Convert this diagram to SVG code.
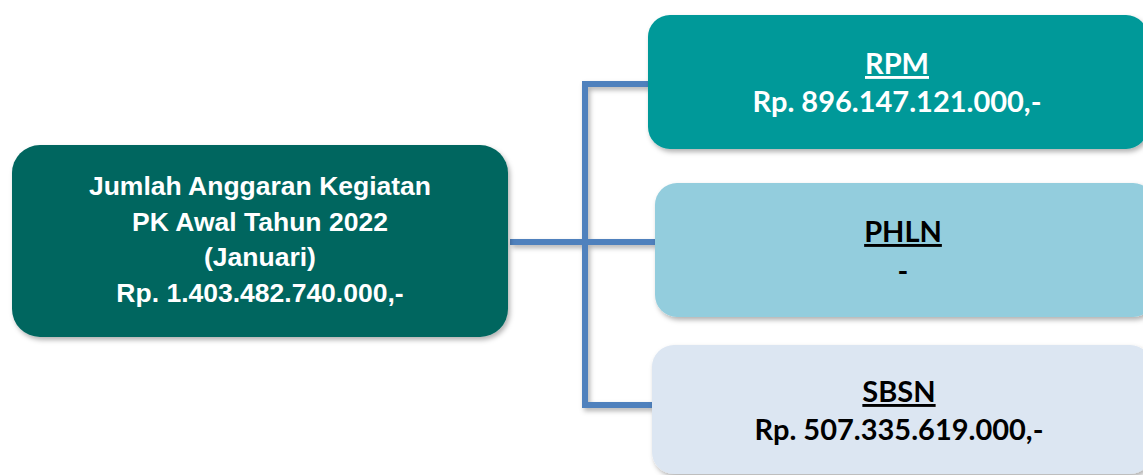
<svg xmlns="http://www.w3.org/2000/svg" width="1143" height="475" viewBox="0 0 1143 475">
<defs>
<filter id="sh" x="-10%" y="-10%" width="125%" height="130%">
<feDropShadow dx="2" dy="3" stdDeviation="2.5" flood-color="#000" flood-opacity="0.3"/>
</filter>
<style>
.main{font-family:"Liberation Sans",Arial,sans-serif;font-weight:bold;font-size:26.5px;fill:#fff;text-anchor:middle}
.lbl{font-family:Lato,"Liberation Sans",sans-serif;font-weight:bold;font-size:29px;text-anchor:middle}
.u{text-decoration:underline}
.conn{stroke:#4F81BD;stroke-width:6;fill:none;stroke-linecap:butt}
</style>
</defs>
<rect width="1143" height="475" fill="#fff"/>
<g id="connectors" filter="url(#sh)">
<line class="conn" x1="510" y1="242" x2="656" y2="242"/>
<polyline class="conn" points="649,84 585,84 585,405 653,405"/>
</g>
<g id="total">
<rect x="12" y="145" width="496" height="192" rx="28" fill="#02665F" filter="url(#sh)"/>
<text class="main" x="260" y="195">Jumlah Anggaran Kegiatan</text>
<text class="main" x="260" y="231">PK Awal Tahun 2022</text>
<text class="main" x="260" y="266">(Januari)</text>
<text class="main" x="260" y="302">Rp. 1.403.482.740.000,-</text>
</g>
<g id="rpm">
<rect x="648" y="15" width="500" height="134" rx="22" fill="#009999" filter="url(#sh)"/>
<text class="lbl u" x="897" y="74" fill="#fff">RPM</text>
<text class="lbl" x="897" y="112" fill="#fff">Rp. 896.147.121.000,-</text>
</g>
<g id="phln">
<rect x="655" y="183" width="500" height="134" rx="22" fill="#93CDDD" filter="url(#sh)"/>
<text class="lbl u" x="903" y="242" fill="#000">PHLN</text>
<text class="lbl" x="903" y="281" fill="#000">-</text>
</g>
<g id="sbsn">
<rect x="652" y="345" width="500" height="129" rx="22" fill="#DCE6F2" filter="url(#sh)"/>
<text class="lbl u" x="899" y="402" fill="#000">SBSN</text>
<text class="lbl" x="899" y="440" fill="#000">Rp. 507.335.619.000,-</text>
</g>
</svg>
